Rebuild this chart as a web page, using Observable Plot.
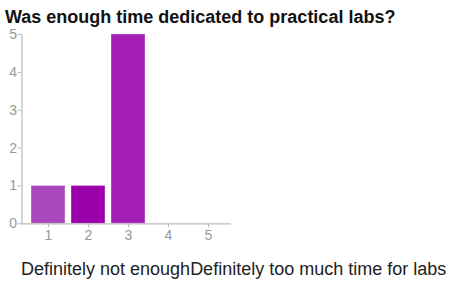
<!DOCTYPE html>
<html>
<head>
<meta charset="utf-8">
<script src="https://cdn.jsdelivr.net/npm/d3@7"></script>
<script src="https://cdn.jsdelivr.net/npm/@observablehq/plot@0.6"></script>
<style>
  html, body { margin: 0; padding: 0; background: #fff; }
  #wrap { position: relative; width: 449px; height: 282px; overflow: hidden; font-family: "Liberation Sans", Arial, sans-serif; }
  #title { position: absolute; left: 5px; top: 7px; font-size: 18px; line-height: 21px; font-weight: bold; color: #111; white-space: nowrap; z-index: 2; }
  #chart { position: absolute; left: 0; top: 0; }
  #foot { position: absolute; left: 21px; top: 259px; font-size: 18px; line-height: 21px; color: #222; white-space: nowrap; }
</style>
</head>
<body>
<div id="wrap">
  <div id="chart"></div>
  <div id="title">Was enough time dedicated to practical labs?</div>
  <div id="foot"><span id="lowLabel"></span><span id="highLabel"></span></div>
</div>
<script>
const categories = [1, 2, 3, 4, 5];
const counts = [1, 1, 5, 0, 0];
const barColors = ["#ab47bc", "#9c00aa", "#a31fb5", "#a31fb5", "#a31fb5"];
const yTicks = [0, 1, 2, 3, 4, 5];
const lowLabel = "Definitely not enough";
const highLabel = "Definitely too much time for labs";

document.getElementById("lowLabel").textContent = lowLabel;
document.getElementById("highLabel").textContent = highLabel;

const data = categories.map((c, i) => ({cat: c, count: counts[i], color: barColors[i]}));

const chart = Plot.plot({
  width: 449,
  height: 245,
  marginTop: 34,
  marginBottom: 21.7,
  marginLeft: 21.5,
  marginRight: 218,
  style: {fontFamily: "Liberation Sans, Arial, sans-serif", fontSize: "14px", color: "#999", background: "transparent"},
  x: {type: "band", domain: categories, paddingInner: 0.15, paddingOuter: 0, insetLeft: 7.5, insetRight: 4.7},
  y: {domain: [0, 5]},
  marks: [
    Plot.barY(data.filter(d => d.count > 0), {x: "cat", y: "count", fill: "color", stroke: "white", strokeOpacity: 0.35, strokeWidth: 1}),
    Plot.ruleY([0], {stroke: "#bbb", strokeWidth: 1.2}),
    Plot.frame({anchor: "left", stroke: "#bbb", strokeWidth: 1.2}),
    Plot.axisY({ticks: yTicks, tickSize: 4, tickPadding: 1, stroke: "#bbb", fill: "#999", label: null, tickFormat: d => d}),
    Plot.axisX({tickSize: 4, tickPadding: 2, stroke: "#bbb", fill: "#999", label: null})
  ]
});
document.getElementById("chart").appendChild(chart);
</script>
</body>
</html>
